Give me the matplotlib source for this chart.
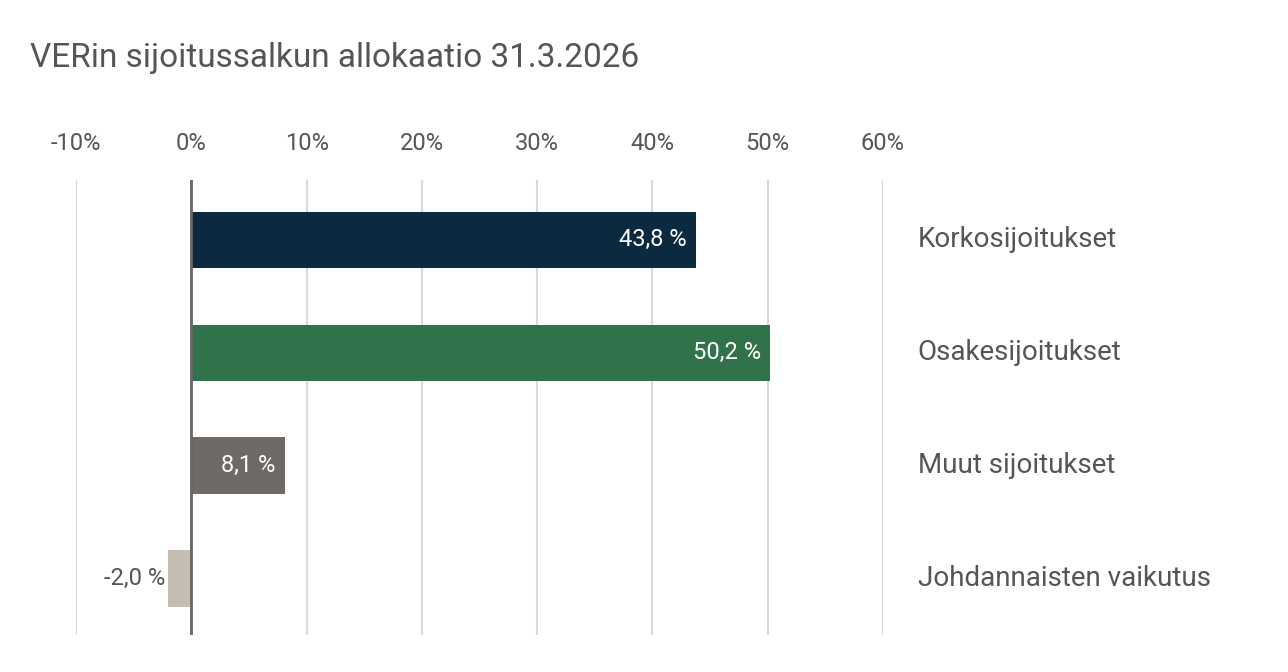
import matplotlib
matplotlib.use("Agg")
import matplotlib.pyplot as plt

categories = ["Korkosijoitukset", "Osakesijoitukset", "Muut sijoitukset", "Johdannaisten vaikutus"]
values = [43.8, 50.2, 8.1, -2.0]
labels = ["43,8 %", "50,2 %", "8,1 %", "-2,0 %"]
colors = ["#0b2a40", "#30734a", "#6d6a68", "#c5bdb2"]
ticks = [-10, 0, 10, 20, 30, 40, 50, 60]

plt.rcParams['font.family'] = ['Roboto', 'DejaVu Sans']
txt = "#555555"
fig = plt.figure(figsize=(12.88, 6.72), dpi=100)
ax = fig.add_axes([76/1288, 1-635/672, (883-76)/1288, (635-180)/672])
y = list(range(len(categories)))
ax.barh(y, values, height=0.5, color=colors, zorder=3)
ax.set_xlim(-10, 60)
ax.set_ylim(3.5, -0.53)
ax.set_xticks(ticks)
ax.set_xticklabels([f"{t}%" for t in ticks], fontsize=17, color=txt)
ax.xaxis.tick_top()
ax.tick_params(axis='x', length=0, pad=18)
ax.set_yticks([])
ax.grid(axis='x', color='#d9d9d9', linewidth=1.5, zorder=0)
for s in ax.spines.values():
    s.set_visible(False)
ax.axvline(0, color='#666666', linewidth=2, zorder=4)
for i, (v, l) in enumerate(zip(values, labels)):
    if v > 0:
        ax.text(v - 0.8, i, l, ha='right', va='center', color='white', fontsize=17, zorder=5)
    else:
        ax.text(v - 0.3, i, l, ha='right', va='center', color=txt, fontsize=17, zorder=5)
    ax.text(63, i, categories[i], ha='left', va='center', color=txt, fontsize=20, clip_on=False)
fig.text(30/1288, 1-58/672, "VERin sijoitussalkun allokaatio 31.3.2026", fontsize=24, color=txt, va='center', ha='left')
fig.savefig("out.png", dpi=100)
